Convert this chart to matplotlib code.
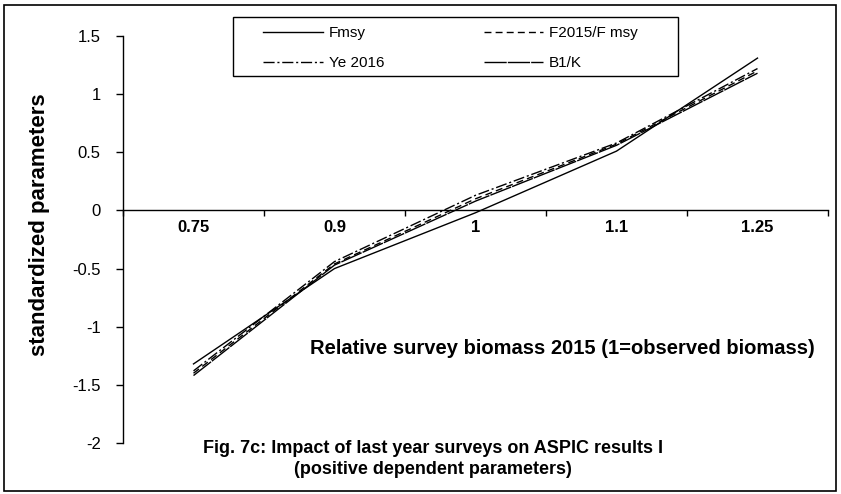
import matplotlib
matplotlib.use("Agg")
import matplotlib.pyplot as plt
from matplotlib.patches import Rectangle
import numpy as np

categories = ["0.75", "0.9", "1", "1.1", "1.25"]
fmsy = [-1.32, -0.50, -0.02, 0.51, 1.31]
f2015_fmsy = [-1.40, -0.46, 0.10, 0.57, 1.20]
ye2016 = [-1.38, -0.44, 0.13, 0.58, 1.22]
b1_k = [-1.42, -0.47, 0.08, 0.56, 1.18]
yticks = [-2, -1.5, -1, -0.5, 0, 0.5, 1, 1.5]

plt.rcParams.update({
    "font.family": ["Liberation Sans", "DejaVu Sans"],
    "font.size": 10,
})

W, H = 841, 494
fig = plt.figure(figsize=(W / 100, H / 100), dpi=100)
ax = fig.add_axes([123 / W, 1 - 443 / H, (828 - 123) / W, (443 - 36) / H])

# spines first: set_position resets the tick objects
for s in ("top", "right"):
    ax.spines[s].set_visible(False)
ax.spines["bottom"].set_position(("data", 0))
ax.spines["left"].set_linewidth(1.0)
ax.spines["bottom"].set_linewidth(1.0)

x = np.arange(len(categories)) + 0.5
ax.plot(x, fmsy, "-", color="black", lw=1.0, label="Fmsy")
ax.plot(x, ye2016, color="black", lw=1.0, linestyle=(0, (8, 2, 1.5, 2)), label="Ye 2016")
ax.plot(x, f2015_fmsy, color="black", lw=1.0, linestyle=(0, (5, 3)), label="F2015/F msy")
ax.plot(x, b1_k, color="black", lw=1.0, linestyle=(0, (16, 0.8)), label="B1/K")

ax.set_xlim(0, len(categories))
ax.set_ylim(-2, 1.5)
# category labels on major ticks (no mark), category boundaries on minor ticks
ax.set_xticks(x)
ax.set_xticklabels(categories, fontsize=12, fontweight="bold")
ax.set_xticks(np.arange(len(categories) + 1), minor=True)
ax.tick_params(axis="x", which="major", length=0, pad=7)
ax.tick_params(axis="x", which="minor", direction="out", length=4, width=1)
ax.set_yticks(yticks)
ax.set_yticklabels([f"{v:g}" for v in yticks], fontsize=12)
ax.tick_params(axis="y", direction="out", length=5, width=1, pad=11)

ax.set_ylabel("standardized parameters", fontsize=16, fontweight="bold")
ax.yaxis.set_label_coords(-0.1035, 0.536)

fig.text(562 / W, 1 - 349 / H, "Relative survey biomass 2015 (1=observed biomass)",
         ha="center", va="center", fontsize=14.5, fontweight="bold")

fig.text(433 / W, 1 - 459 / H,
         "Fig. 7c: Impact of last year surveys on ASPIC results I\n(positive dependent parameters)",
         ha="center", va="center", fontsize=13, fontweight="bold", linespacing=1.3)

leg = ax.legend(ncol=2, loc="upper left", bbox_to_anchor=(263 / W, 1 - 26 / H),
                bbox_transform=fig.transFigure, frameon=False, fontsize=11,
                handlelength=3.9, columnspacing=6.5, borderpad=0,
                borderaxespad=0, labelspacing=1.05, handletextpad=0.4)

# legend frame and outer figure frame
fig.patches.append(Rectangle((233 / W, 1 - 76 / H), (678 - 233) / W, (76 - 17) / H,
                             transform=fig.transFigure, fill=False,
                             edgecolor="black", linewidth=1.0))
fig.patches.append(Rectangle((4 / W, 1 - 491 / H), (836 - 4) / W, (491 - 5) / H,
                             transform=fig.transFigure, fill=False,
                             edgecolor="black", linewidth=1.2))

fig.savefig("out.png", dpi=100)
